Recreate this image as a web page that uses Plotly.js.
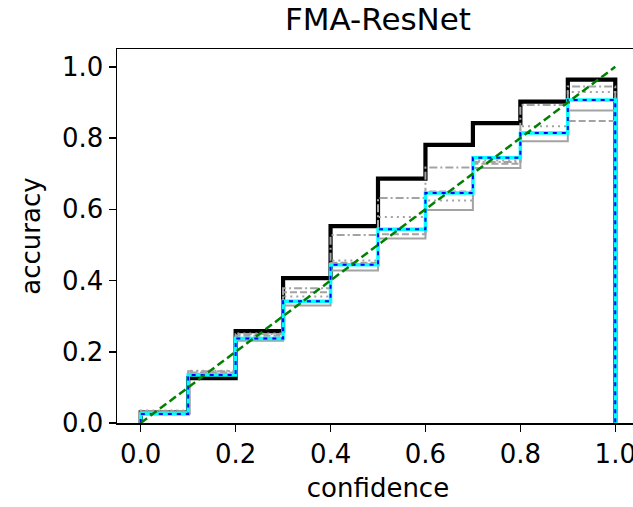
<!DOCTYPE html>
<html>
<head>
<meta charset="utf-8">
<script src="https://cdn.plot.ly/plotly-3.0.1.min.js"></script>
<style>
html,body{margin:0;padding:0;width:633px;height:507px;overflow:hidden;background:#fff;}
#chart{width:660px;height:507px;}
</style>
</head>
<body>
<div id="chart"></div>
<script>
// bin edges (confidence)
const binEdges = [0.0, 0.1, 0.2, 0.3, 0.4, 0.5, 0.6, 0.7, 0.8, 0.9, 1.0];
// per-bin accuracy
const uncalibrated = [0.030, 0.126, 0.258, 0.407, 0.553, 0.686, 0.781, 0.842, 0.902, 0.964];
const graySolid    = [0.030, 0.138, 0.231, 0.330, 0.428, 0.518, 0.598, 0.716, 0.791, 0.877];
const grayDashed   = [0.032, 0.142, 0.245, 0.367, 0.450, 0.530, 0.650, 0.728, 0.815, 0.848];
const grayDotted   = [0.035, 0.147, 0.251, 0.355, 0.456, 0.578, 0.625, 0.737, 0.833, 0.929];
const grayDashDot  = [0.033, 0.145, 0.250, 0.378, 0.528, 0.632, 0.717, 0.733, 0.893, 0.945];
const proposed     = [0.025, 0.135, 0.237, 0.342, 0.444, 0.544, 0.646, 0.745, 0.814, 0.907];
const diagX = [0.0, 1.0];
const diagY = [0.0, 1.0];
const xTicks = [0.0, 0.2, 0.4, 0.6, 0.8, 1.0];
const xTickText = ['0.0', '0.2', '0.4', '0.6', '0.8', '1.0'];
const yTicks = [0.0, 0.2, 0.4, 0.6, 0.8, 1.0];
const yTickText = ['0.0', '0.2', '0.4', '0.6', '0.8', '1.0'];

function stepX() {
  return [binEdges[0]].concat(binEdges.slice(0, binEdges.length - 1)).concat([binEdges[binEdges.length - 1]]);
}
function stepY(vals) {
  return [0].concat(vals).concat([0]);
}
function stepTrace(vals, color, width, dash) {
  return {
    x: stepX(), y: stepY(vals), type: 'scatter', mode: 'lines',
    line: {shape: 'hv', color: color, width: width, dash: dash},
    hoverinfo: 'skip', showlegend: false, cliponaxis: true
  };
}
const gray = '#a3a3a3';
const data = [
  stepTrace(uncalibrated, '#000000', 4.2, 'solid'),
  stepTrace(graySolid, gray, 2, 'solid'),
  stepTrace(grayDashed, gray, 2, '7px,3px'),
  stepTrace(grayDotted, gray, 2, '2px,4px'),
  stepTrace(grayDashDot, gray, 2, '8px,3px,2px,3px'),
  stepTrace(proposed, '#00ffff', 3.5, 'solid'),
  stepTrace(proposed, '#0000ff', 2, '4px,5px'),
  {x: diagX, y: diagY, type: 'scatter', mode: 'lines',
   line: {color: '#008000', width: 2.5, dash: '8px,4px'}, hoverinfo: 'skip', showlegend: false}
];
const font = {family: 'DejaVu Sans', color: '#000', size: 26};
const layout = {
  width: 660, height: 507,
  margin: {l: 117, r: 21, t: 49, b: 84, pad: 0},
  paper_bgcolor: '#fff', plot_bgcolor: '#fff',
  font: font,
  title: {text: 'FMA-ResNet', font: {family: 'DejaVu Sans', size: 31, color: '#000'},
          x: 0.5, xref: 'paper', xanchor: 'center', y: 0.962, yref: 'container', yanchor: 'middle'},
  xaxis: {
    range: [-0.05, 1.05], tickmode: 'array', tickvals: xTicks, ticktext: xTickText,
    showgrid: false, zeroline: false, showline: true, linecolor: '#000', linewidth: 1.5,
    mirror: true, ticks: 'outside', ticklen: 7, tickwidth: 1.5, tickcolor: '#000',
    tickfont: font, title: {text: 'confidence', font: font, standoff: 11}
  },
  yaxis: {
    range: [0, 1.05], tickmode: 'array', tickvals: yTicks, ticktext: yTickText,
    showgrid: false, zeroline: false, showline: true, linecolor: '#000', linewidth: 1.5,
    mirror: true, ticks: 'outside', ticklen: 7, tickwidth: 1.5, tickcolor: '#000',
    tickfont: font, title: {text: 'accuracy', font: font, standoff: 14}
  }
};
Plotly.newPlot('chart', data, layout, {staticPlot: true, displayModeBar: false});
</script>
</body>
</html>
